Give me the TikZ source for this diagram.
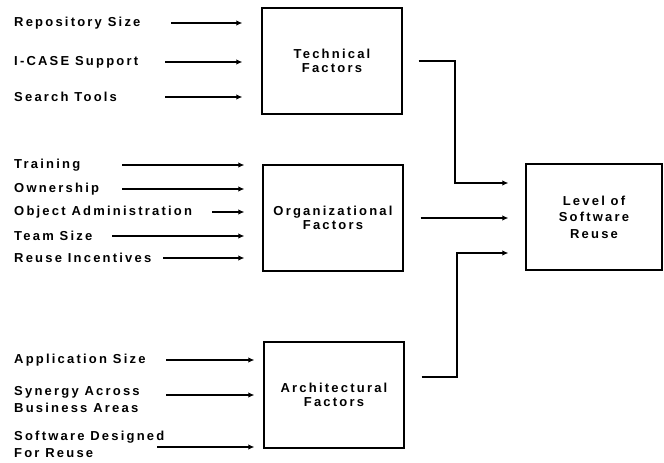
\documentclass[tikz,border=0pt]{standalone}
\usepackage{fontspec}
\setmainfont{Liberation Sans}[LetterSpace=17]
\usetikzlibrary{arrows.meta}
\begin{document}
\begin{tikzpicture}[x=1pt,y=-1pt,
  lab/.style={anchor=west,inner sep=0pt,align=left,font=\bfseries\fontsize{13}{17}\selectfont},
  box/.style={draw,line width=1.3pt,minimum width=140pt,minimum height=106pt,align=center,
    font=\bfseries\fontsize{13}{14}\selectfont},
  arr/.style={line width=1.8pt,-{Latex[length=6pt,width=5.5pt]}}]
\useasboundingbox (0,0) rectangle (664,463);
% boxes
\node[box] (tech) at (332,61) {Technical\\Factors};
\node[box] (org) at (333,218) {Organizational\\Factors};
\node[box] (arch) at (334,395) {Architectural\\Factors};
\node[box,minimum width=136pt,font=\bfseries\fontsize{13}{16.5}\selectfont] (level) at (594,217) {Level of\\Software\\Reuse};
% labels
\node[lab] (rs) at (14,23) {Repository Size};
\node[lab] (ic) at (14,62) {I-CASE Support};
\node[lab] (st) at (14,97) {Search Tools};
\node[lab] (tr) at (14,165) {Training};
\node[lab] (ow) at (14,189) {Ownership};
\node[lab] (oa) at (14,212) {Object Administration};
\node[lab] (ts) at (14,236) {Team Size};
\node[lab] (ri) at (14,258) {Reuse Incentives};
\node[lab] (as) at (14,360) {Application Size};
\node[lab,anchor=north west] (sy) at (14,386) {Synergy Across\\Business Areas};
\node[lab,anchor=north west] (sd) at (14,431) {Software Designed\\For Reuse};
% input arrows
\draw[arr] (171,0 |- rs) -- ([xshift=-19pt]tech.west |- rs);
\draw[arr] (165,0 |- ic) -- ([xshift=-19pt]tech.west |- ic);
\draw[arr] (165,0 |- st) -- ([xshift=-19pt]tech.west |- st);
\draw[arr] (122,0 |- tr) -- ([xshift=-18pt]org.west |- tr);
\draw[arr] (122,0 |- ow) -- ([xshift=-18pt]org.west |- ow);
\draw[arr] (212,0 |- oa) -- ([xshift=-18pt]org.west |- oa);
\draw[arr] (112,0 |- ts) -- ([xshift=-18pt]org.west |- ts);
\draw[arr] (163,0 |- ri) -- ([xshift=-18pt]org.west |- ri);
\draw[arr] (166,0 |- as) -- ([xshift=-9pt]arch.west |- as);
\coordinate (syc) at (166,395);
\draw[arr] (syc) -- ([xshift=-9pt]arch.west |- syc);
\coordinate (sdc) at (157,447);
\draw[arr] (sdc) -- ([xshift=-9pt]arch.west |- sdc);
% output arrows
\draw[arr] ([xshift=16pt]tech.east) -- ++(36,0) |- ([xshift=-17pt,yshift=34pt]level.west);
\draw[arr] ([xshift=17pt]org.east) -- ([xshift=-17pt]level.west |- org.east);
\draw[arr] ([xshift=17pt,yshift=18pt]arch.east) -- ++(35,0) |- ([xshift=-17pt,yshift=-36pt]level.west);
\end{tikzpicture}
\end{document}
